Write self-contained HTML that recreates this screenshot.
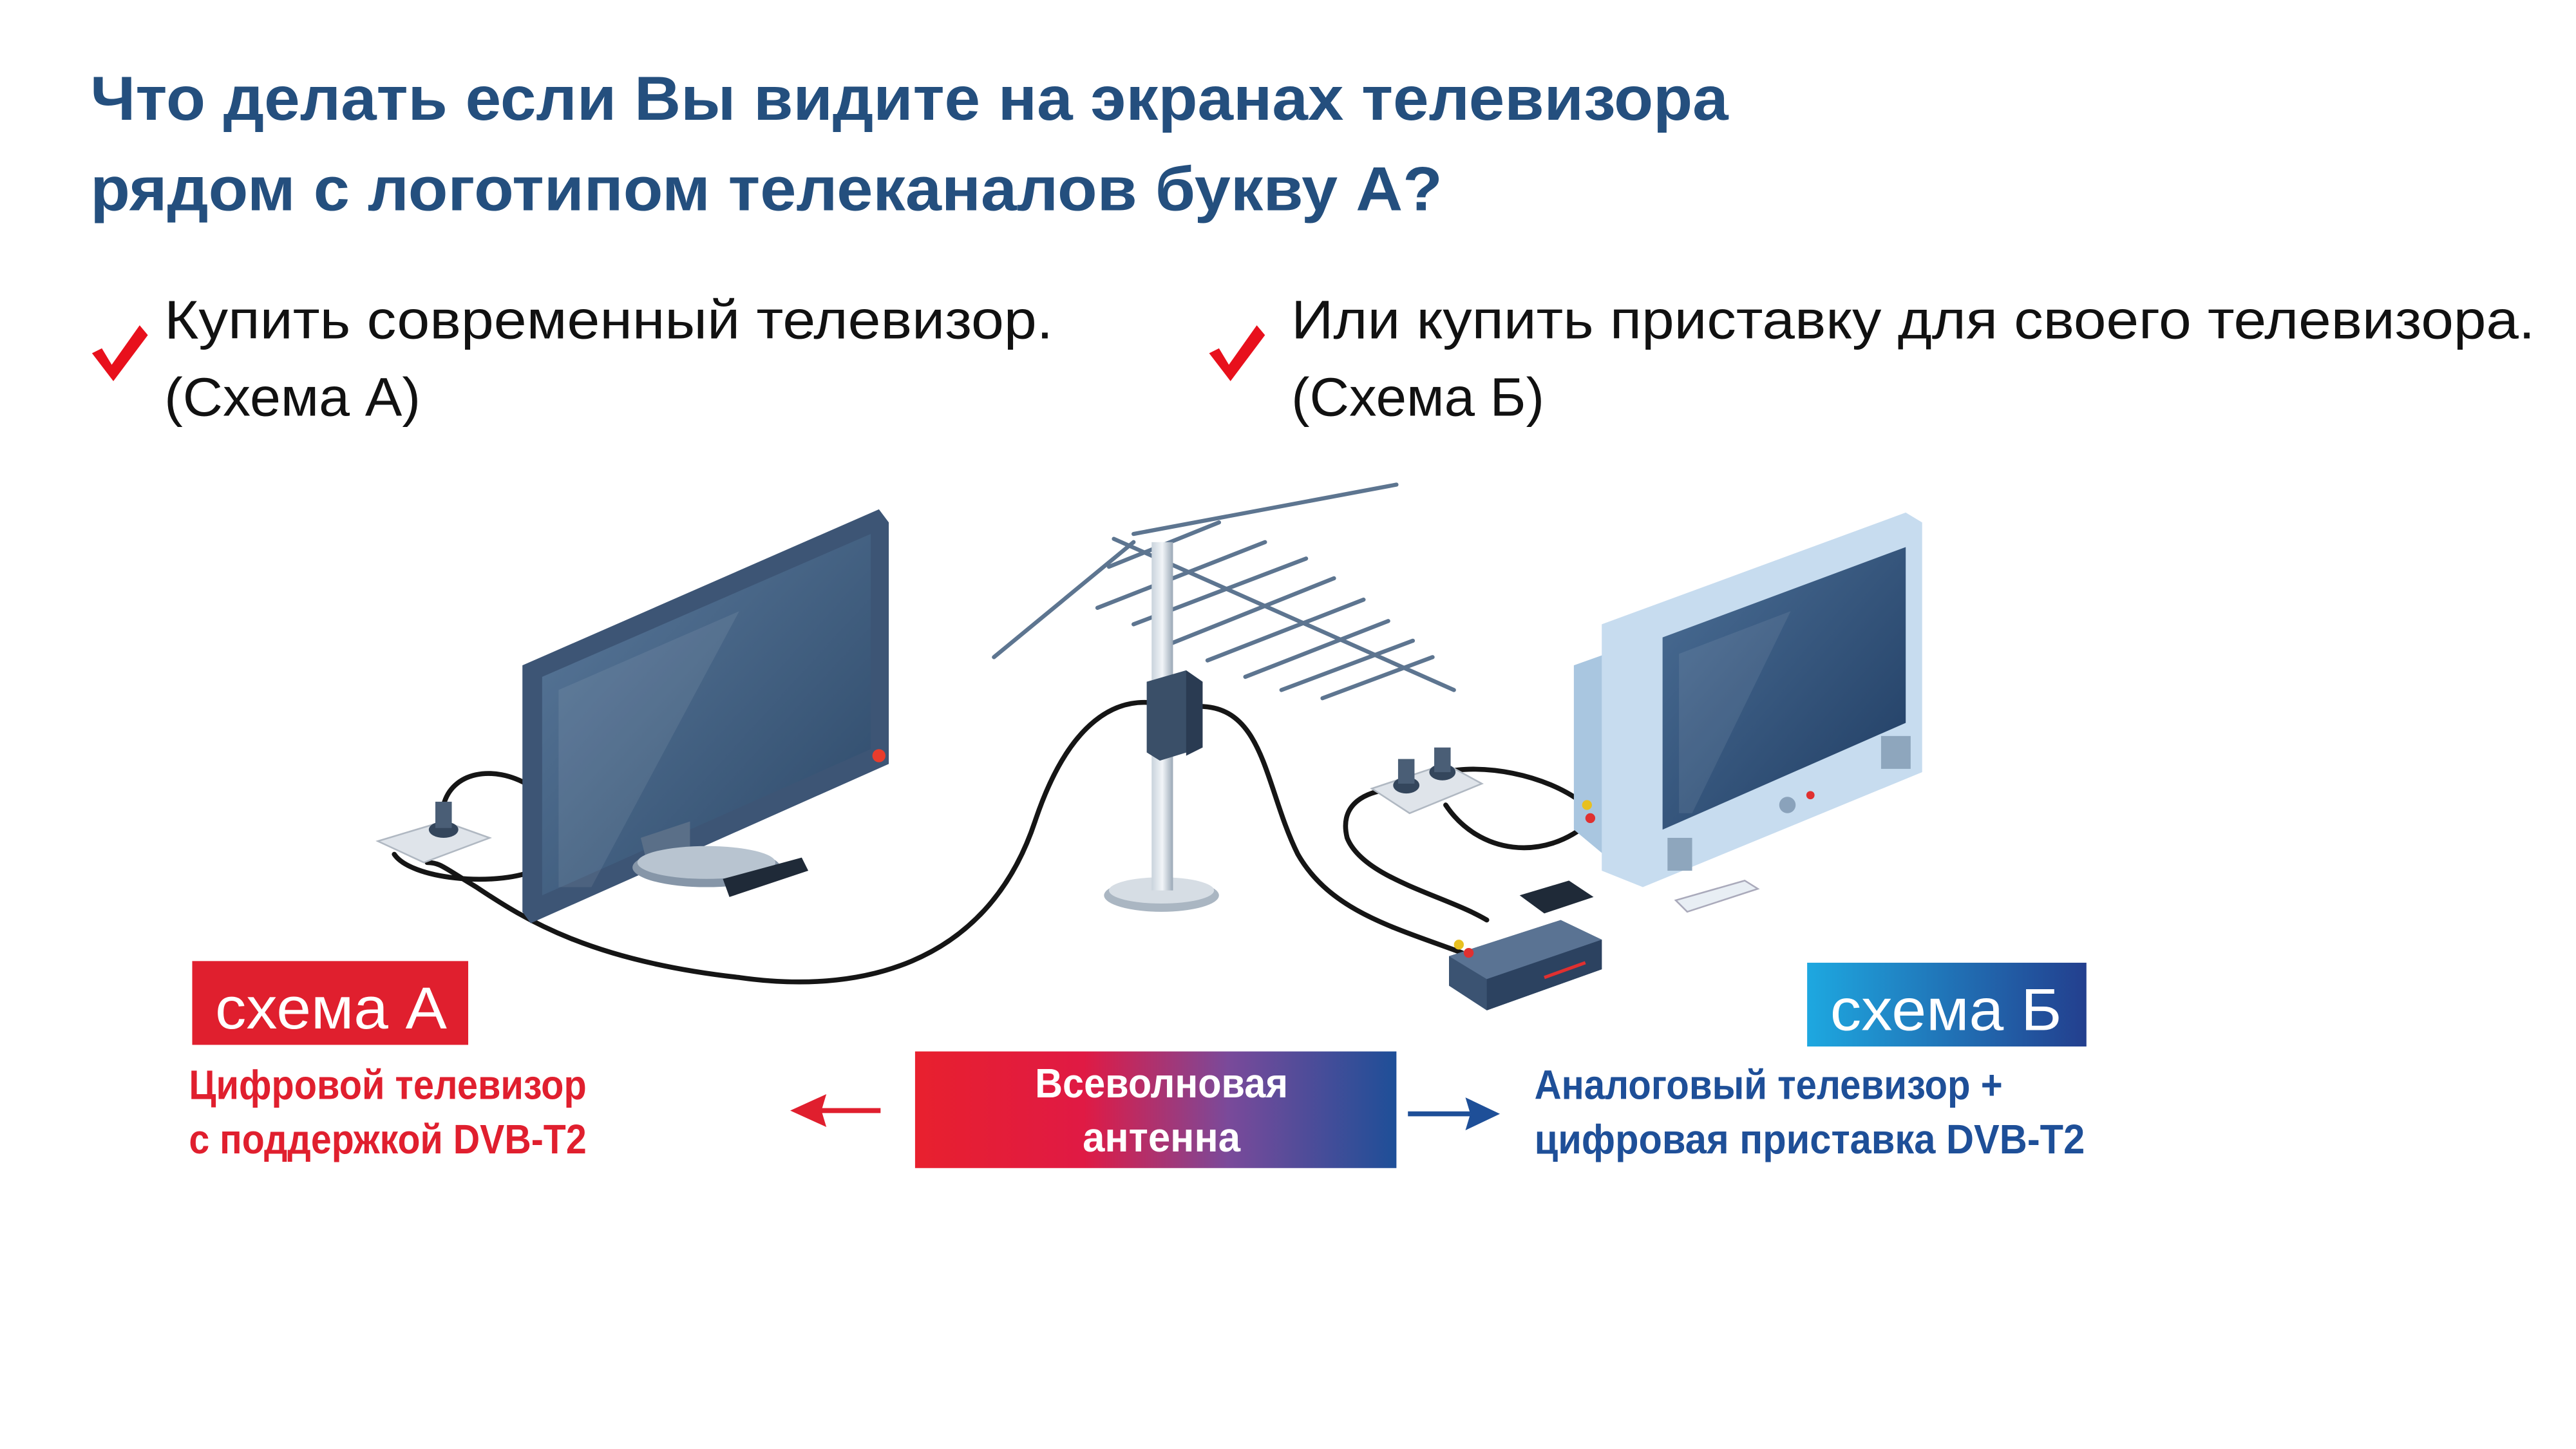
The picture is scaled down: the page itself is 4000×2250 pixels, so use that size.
<!DOCTYPE html>
<html><head><meta charset="utf-8"><style>
html,body{margin:0;padding:0;background:#fff;}
svg{display:block;}
</style></head><body>
<svg width="4000" height="2250" viewBox="0 0 1568 882" xmlns="http://www.w3.org/2000/svg">
<defs>
<linearGradient id="scrA" x1="0" y1="0" x2="1" y2="1"><stop offset="0" stop-color="#5b7a9c"/><stop offset="1" stop-color="#2c4868"/></linearGradient>
<linearGradient id="scrB" x1="0" y1="0" x2="1" y2="1"><stop offset="0" stop-color="#4c6f96"/><stop offset="1" stop-color="#1f3c62"/></linearGradient>
<linearGradient id="gB" x1="0" y1="0" x2="1" y2="0"><stop offset="0" stop-color="#1ea8e0"/><stop offset="1" stop-color="#233f8e"/></linearGradient>
<linearGradient id="gC" x1="0" y1="0" x2="1" y2="0"><stop offset="0" stop-color="#e8202e"/><stop offset="0.35" stop-color="#e01a44"/><stop offset="0.65" stop-color="#7a4a9a"/><stop offset="1" stop-color="#1e4f98"/></linearGradient>
<linearGradient id="mast" x1="0" x2="1"><stop offset="0" stop-color="#c9d3dc"/><stop offset="0.5" stop-color="#f2f5f8"/><stop offset="1" stop-color="#9aa8b6"/></linearGradient>
</defs>

<!-- Title -->
<g font-family="'Liberation Sans', sans-serif" font-weight="bold" fill="#244f7e" font-size="38">
<text x="55" y="73" textLength="997" lengthAdjust="spacingAndGlyphs">Что делать если Вы видите на экранах телевизора</text>
<text x="55" y="128" textLength="823" lengthAdjust="spacingAndGlyphs">рядом с логотипом телеканалов букву А?</text>
</g>

<!-- bullets -->
<g font-family="'Liberation Sans', sans-serif" fill="#111" font-size="33">
<text x="100" y="206" textLength="541" lengthAdjust="spacingAndGlyphs">Купить современный телевизор.</text>
<text x="100" y="253" textLength="156" lengthAdjust="spacingAndGlyphs">(Схема А)</text>
<text x="786" y="206" textLength="757" lengthAdjust="spacingAndGlyphs">Или купить приставку для своего телевизора.</text>
<text x="786" y="253" textLength="154" lengthAdjust="spacingAndGlyphs">(Схема Б)</text>
</g>
<path d="M56 215 L62 212 L68 222 L85 198 L90 204 L69 232 Z" fill="#e8101c"/>
<path d="M736 215 L742 212 L748 222 L765 198 L770 204 L749 232 Z" fill="#e8101c"/>

<!-- cables -->
<g fill="none" stroke="#151515" stroke-width="3" stroke-linecap="round">
<path d="M712 430 C680 420 650 440 630 500 C600 590 520 605 450 595 C360 585 320 560 290 540 C270 528 268 525 260 525"/>
<path d="M270 490 C275 470 300 465 322 478"/>
<path d="M240 520 C250 535 300 540 325 530"/>
<path d="M730 430 C770 430 770 480 790 520 C810 555 850 565 890 580"/>
<path d="M855 480 C830 480 815 490 820 510 C830 535 880 545 905 560"/>
<path d="M880 470 C900 465 940 470 965 490"/>
<path d="M880 490 C900 520 940 525 968 500"/>
</g>

<!-- Left TV -->
<polygon points="318,405 535,310 541,318 541,465 323,562 318,555" fill="#3d5575"/>
<polygon points="330,412 530,325 530,456 330,545" fill="url(#scrA)"/>
<polygon points="340,420 450,372 360,540 340,540" fill="#ffffff" opacity="0.08"/>
<circle cx="535" cy="460" r="4" fill="#e83c2c"/>
<polygon points="390,510 420,500 420,520 395,530" fill="#5a6f88"/>
<ellipse cx="430" cy="528" rx="45" ry="12" fill="#8696a8"/>
<ellipse cx="430" cy="525" rx="42" ry="10" fill="#b8c4d0"/>
<polygon points="440,535 488,522 492,530 444,546" fill="#1f2a38"/>
<!-- socket left -->
<polygon points="230,512 270,500 298,510 258,525" fill="#dfe4ea" stroke="#b0b8c2"/>
<ellipse cx="270" cy="505" rx="9" ry="5" fill="#34465c"/>
<rect x="265" y="488" width="10" height="16" fill="#4a5e76"/>

<!-- Antenna -->
<g stroke="#5d7590" stroke-width="2.5" stroke-linecap="round">
<line x1="605" y1="400" x2="690" y2="330"/>
<line x1="690" y1="325" x2="850" y2="295"/>
<line x1="678" y1="328" x2="885" y2="420"/>
<line x1="675" y1="345" x2="742" y2="318"/>
<line x1="668" y1="370" x2="770" y2="330"/>
<line x1="690" y1="380" x2="795" y2="340"/>
<line x1="712" y1="392" x2="812" y2="352"/>
<line x1="735" y1="402" x2="830" y2="365"/>
<line x1="758" y1="412" x2="845" y2="378"/>
<line x1="780" y1="420" x2="860" y2="390"/>
<line x1="805" y1="425" x2="872" y2="400"/>
</g>
<ellipse cx="707" cy="545" rx="35" ry="10" fill="#aab6c2"/>
<ellipse cx="707" cy="542" rx="32" ry="8" fill="#d6dde4"/>
<rect x="701" y="330" width="13" height="212" fill="url(#mast)"/>
<polygon points="698,415 722,408 732,415 732,455 706,463 698,458" fill="#3a4f68"/>
<polygon points="722,408 732,415 732,455 722,460" fill="#2a3b52"/>

<!-- Right CRT TV -->
<polygon points="958,405 1000,390 1000,540 958,505" fill="#a9c6e0"/>
<polygon points="975,380 1160,312 1170,318 1170,470 1000,540 975,530" fill="#c7dcef"/>
<polygon points="1012,388 1160,333 1160,440 1012,505" fill="url(#scrB)"/>
<polygon points="1022,398 1090,372 1030,495 1022,495" fill="#fff" opacity="0.08"/>
<circle cx="1088" cy="490" r="5" fill="#8aa2bb"/>
<circle cx="1102" cy="484" r="2.5" fill="#e03030"/>
<rect x="1015" y="510" width="15" height="20" fill="#8ea6bd"/>
<rect x="1145" y="448" width="18" height="20" fill="#8ea6bd"/>
<polygon points="1020,548 1062,536 1070,541 1027,555" fill="#e8eef4" stroke="#aab"/>
<!-- socket right -->
<polygon points="835,480 880,465 902,477 858,495" fill="#dfe4ea" stroke="#b0b8c2"/>
<ellipse cx="856" cy="478" rx="8" ry="5" fill="#34465c"/>
<ellipse cx="878" cy="470" rx="8" ry="5" fill="#34465c"/>
<rect x="851" y="462" width="10" height="15" fill="#4a5e76"/>
<rect x="873" y="455" width="10" height="15" fill="#4a5e76"/>
<!-- set top box -->
<polygon points="882,582 950,560 975,572 975,590 905,615 882,600" fill="#3b5372"/>
<polygon points="882,582 950,560 975,572 905,596" fill="#5a7393"/>
<polygon points="905,596 975,572 975,590 905,615" fill="#2c4260"/>
<line x1="940" y1="595" x2="965" y2="586" stroke="#e03030" stroke-width="2"/>
<polygon points="925,545 955,536 970,546 940,556" fill="#1f2a38"/>
<circle cx="888" cy="575" r="3" fill="#e8c020"/><circle cx="894" cy="580" r="3" fill="#e03030"/>
<circle cx="966" cy="490" r="3" fill="#e8c020"/><circle cx="968" cy="498" r="3" fill="#e03030"/>

<!-- Labels -->
<rect x="117" y="585" width="168" height="51" fill="#e01f2e"/>
<text x="131" y="626" font-family="'Liberation Sans', sans-serif" font-size="36" fill="#fff" textLength="141" lengthAdjust="spacingAndGlyphs">схема А</text>
<rect x="1100" y="586" width="170" height="51" fill="url(#gB)"/>
<text x="1114" y="627" font-family="'Liberation Sans', sans-serif" font-size="36" fill="#fff" textLength="141" lengthAdjust="spacingAndGlyphs">схема Б</text>

<rect x="557" y="640" width="293" height="71" fill="url(#gC)"/>
<g font-family="'Liberation Sans', sans-serif" font-weight="bold" font-size="25">
<text x="630" y="668" fill="#fff" textLength="154" lengthAdjust="spacingAndGlyphs">Всеволновая</text>
<text x="659" y="701" fill="#fff" textLength="96" lengthAdjust="spacingAndGlyphs">антенна</text>
<text x="115" y="669" fill="#e01f2e" textLength="242" lengthAdjust="spacingAndGlyphs">Цифровой телевизор</text>
<text x="115" y="702" fill="#e01f2e" textLength="242" lengthAdjust="spacingAndGlyphs">с поддержкой DVB-T2</text>
<text x="934" y="669" fill="#1e4f98" textLength="285" lengthAdjust="spacingAndGlyphs">Аналоговый телевизор +</text>
<text x="934" y="702" fill="#1e4f98" textLength="335" lengthAdjust="spacingAndGlyphs">цифровая приставка  DVB-T2</text>
</g>

<!-- arrows -->
<line x1="500" y1="676" x2="536" y2="676" stroke="#e01f2e" stroke-width="3"/>
<polygon points="481,676 503,666 500,676 503,686" fill="#e01f2e"/>
<line x1="857" y1="678" x2="895" y2="678" stroke="#1e4f98" stroke-width="3"/>
<polygon points="913,678 892,668 895,678 892,688" fill="#1e4f98"/>
</svg>
</body></html>
